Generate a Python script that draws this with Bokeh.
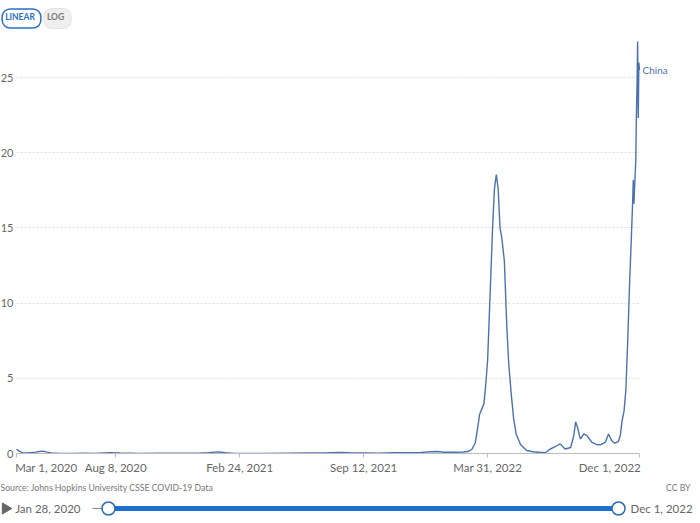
import math
import pandas as pd
from bokeh.plotting import figure
from bokeh.models import Range1d, FixedTicker, Label, ColumnDataSource, LinearAxis
from bokeh.embed import file_html
from bokeh.resources import INLINE
from bokeh.core.properties import value

# ---------------- data ----------------
country = "China"
dates = [
    "2020-03-01", "2020-03-06", "2020-03-12", "2020-03-18", "2020-03-25", "2020-04-01",
    "2020-04-07", "2020-04-13", "2020-04-19", "2020-04-26", "2020-05-10", "2020-06-01",
    "2020-06-18", "2020-07-05", "2020-07-30", "2020-08-15", "2020-09-15", "2020-10-20",
    "2020-11-20", "2020-12-20", "2021-01-05", "2021-01-15", "2021-01-22", "2021-02-01",
    "2021-02-15", "2021-04-01", "2021-05-15", "2021-06-15", "2021-07-10", "2021-08-05",
    "2021-08-20", "2021-09-15", "2021-10-05", "2021-11-01", "2021-11-20", "2021-12-10",
    "2021-12-28", "2022-01-08", "2022-01-20", "2022-02-05", "2022-02-20", "2022-03-01",
    "2022-03-06", "2022-03-11", "2022-03-15", "2022-03-18", "2022-03-22", "2022-03-25",
    "2022-03-28", "2022-03-31", "2022-04-04", "2022-04-08", "2022-04-11", "2022-04-14",
    "2022-04-17", "2022-04-20", "2022-04-23", "2022-04-27", "2022-05-01", "2022-05-04",
    "2022-05-08", "2022-05-12", "2022-05-16", "2022-05-23", "2022-06-02", "2022-06-12",
    "2022-06-22", "2022-07-02", "2022-07-10", "2022-07-18", "2022-07-26", "2022-08-03",
    "2022-08-12", "2022-08-17", "2022-08-20", "2022-08-23", "2022-08-26", "2022-08-28",
    "2022-09-02", "2022-09-07", "2022-09-15", "2022-09-22", "2022-09-29", "2022-10-07",
    "2022-10-12", "2022-10-17", "2022-10-22", "2022-10-28", "2022-10-31", "2022-11-03",
    "2022-11-06", "2022-11-09", "2022-11-12", "2022-11-15", "2022-11-18", "2022-11-20",
    "2022-11-21", "2022-11-22", "2022-11-23", "2022-11-24", "2022-11-25", "2022-11-26",
    "2022-11-27", "2022-11-28", "2022-11-29", "2022-11-30", "2022-12-01",
]
cases_per_million = [
    0.28, 0.14, 0.04, 0.03, 0.06, 0.09,
    0.13, 0.16, 0.09, 0.04, 0.01, 0.01,
    0.02, 0.01, 0.05, 0.03, 0.01, 0.02,
    0.02, 0.02, 0.05, 0.09, 0.10, 0.06,
    0.01, 0.01, 0.02, 0.03, 0.03, 0.07,
    0.05, 0.04, 0.02, 0.05, 0.05, 0.06,
    0.12, 0.13, 0.08, 0.08, 0.10, 0.15,
    0.30, 0.70, 1.70, 2.60, 3.00, 3.30,
    4.60, 6.20, 10.6, 15.0, 17.6, 18.55,
    17.6, 15.0, 14.3, 12.8, 8.4, 6.0,
    4.0, 2.3, 1.3, 0.6, 0.2, 0.12,
    0.08, 0.05, 0.30, 0.45, 0.64, 0.30,
    0.40, 1.20, 2.10, 1.75, 1.20, 0.97,
    1.30, 1.20, 0.75, 0.60, 0.58, 0.75,
    1.30, 0.86, 0.68, 0.80, 1.20, 2.20,
    2.80, 4.20, 7.50, 11.3, 14.5, 16.8,
    18.2, 16.6, 17.6, 18.5, 19.5, 22.5,
    24.5, 27.4, 22.3, 26.0, 25.5,
]
tick_dates = ["2020-03-01", "2020-08-08", "2021-02-24", "2021-09-12", "2022-03-31", "2022-12-01"]
tick_labels = ["Mar 1, 2020", "Aug 8, 2020", "Feb 24, 2021", "Sep 12, 2021", "Mar 31, 2022", "Dec 1, 2022"]
y_ticks = [0, 5, 10, 15, 20, 25]
slider_start, slider_end = "2020-01-28", "2022-12-01"
slider_labels = ["Jan 28, 2020", "Dec 1, 2022"]
source_text = "Source: Johns Hopkins University CSSE COVID-19 Data"
license_text = "CC BY"
scale_buttons = ["LINEAR", "LOG"]

# ---------------- geometry ----------------
origin = pd.Timestamp(dates[0])


def day(d):
    return float((pd.Timestamp(d) - origin).days)


xs = [day(d) for d in dates]
x_ticks = [day(d) for d in tick_dates]
x_end = x_ticks[-1]

FONT = "Lato"
LINE_COLOR = "#4a72b0"
TEXT_GREY = "#666666"

W, H = 700, 523
FX0, FX1 = 16, 639            # canvas x of first / last date
FY0 = 453                     # canvas y of value 0
ppd = (FX1 - FX0) / x_end
ppu = 376.0 / 25.0


def px_x(cx):
    return (cx - FX0) / ppd


def px_y(cy):
    return (FY0 - cy) / ppu


p = figure(width=W, height=H,
           x_range=Range1d(px_x(0), px_x(W)),
           y_range=Range1d(px_y(H), px_y(0)),
           output_backend="svg", toolbar_location=None,
           min_border_left=0, min_border_right=0, min_border_top=0, min_border_bottom=0)
p.outline_line_color = None
p.background_fill_color = "white"
p.border_fill_color = "white"

src = ColumnDataSource(dict(x=xs, y=cases_per_million))
p.line("x", "y", source=src, line_color=LINE_COLOR, line_width=1.4)

# y axis (drawn at the first date)
p.yaxis.fixed_location = 0
p.yaxis.ticker = FixedTicker(ticks=y_ticks)
p.yaxis.axis_line_color = None
p.yaxis.major_tick_line_color = None
p.yaxis.major_tick_in = 0
p.yaxis.major_tick_out = 0
p.yaxis.minor_tick_line_color = None
p.yaxis.major_label_text_color = TEXT_GREY
p.yaxis.major_label_text_font = FONT
p.yaxis.major_label_text_font_size = "11px"
p.yaxis.major_label_standoff = 3

# x axis: line, ticks and inner labels
p.xaxis.fixed_location = 0
p.xaxis.bounds = (0, x_end)
p.xaxis.ticker = FixedTicker(ticks=x_ticks)
overrides = {int(t): lab for t, lab in zip(x_ticks, tick_labels)}
overrides[int(x_ticks[0])] = ""
overrides[int(x_ticks[-1])] = ""
p.xaxis.major_label_overrides = overrides
p.xaxis.axis_line_color = "#bbbbbb"
p.xaxis.major_tick_line_color = "#bbbbbb"
p.xaxis.major_tick_in = 0
p.xaxis.major_tick_out = 4
p.xaxis.minor_tick_line_color = None
p.xaxis.major_label_text_color = TEXT_GREY
p.xaxis.major_label_text_font = FONT
p.xaxis.major_label_text_font_size = "11.5px"
p.xaxis.major_label_standoff = 3

# x axis: edge labels aligned with the ends of the time axis
half_w = 30.0
edge_ticks = [int(round(x_ticks[0] + half_w / ppd)), int(round(x_ticks[-1] - half_w / ppd))]
edge_axis = LinearAxis(fixed_location=0, ticker=FixedTicker(ticks=edge_ticks),
                       major_label_overrides={edge_ticks[0]: tick_labels[0],
                                              edge_ticks[1]: tick_labels[-1]},
                       axis_line_color=None, major_tick_line_color=None,
                       minor_tick_line_color=None, major_tick_in=0, major_tick_out=4,
                       major_label_text_color=TEXT_GREY, major_label_text_font=FONT,
                       major_label_text_font_size="11.5px", major_label_standoff=3)
p.add_layout(edge_axis, "below")

# grid
p.xgrid.visible = False
p.ygrid.ticker = FixedTicker(ticks=y_ticks[1:])
p.ygrid.grid_line_color = "#dddddd"
p.ygrid.grid_line_dash = "2 2"
p.ygrid.cross_bounds = (0, x_end)

# series label
p.text(x=[xs[-1]], y=[cases_per_million[-1]], text=[country], x_offset=3,
       text_baseline="middle", text_font=value(FONT), text_font_size="10px",
       text_color=LINE_COLOR)

# LINEAR / LOG toggle
btn_y = px_y(18)
p.add_layout(Label(x=px_x(57), y=btn_y, text=scale_buttons[1], text_align="center",
                   text_baseline="middle", text_font=FONT, text_font_size="8.5px",
                   text_font_style="bold", text_color="#7a7a7a",
                   background_fill_color="#efefef", border_line_color="#e2e2e2",
                   padding=[3, 7, 3, 7], border_radius=8))
p.add_layout(Label(x=px_x(21), y=btn_y, text=scale_buttons[0], text_align="center",
                   text_baseline="middle", text_font=FONT, text_font_size="8.5px",
                   text_font_style="bold", text_color="#2a6fc4",
                   background_fill_color="white", border_line_color="#2a6fc4",
                   border_line_width=1.5, padding=[3, 6, 3, 6], border_radius=8))

# ---------------- footer / timeline ----------------
foot_y = px_y(487)
p.text(x=[px_x(0)], y=[foot_y], text=[source_text], text_font=value(FONT),
       text_font_size="8.7px", text_color="#777777", text_baseline="middle")
p.text(x=[px_x(690)], y=[foot_y], text=[license_text], text_font=value(FONT),
       text_font_size="8.7px", text_color="#777777", text_baseline="middle",
       text_align="right")

s0, s1 = day(slider_start), day(slider_end)
TRACK_L, TRACK_R = 108, 618


def slider_x(d):
    return px_x(TRACK_L + (day(d) - s0) / (s1 - s0) * (TRACK_R - TRACK_L))


sy = px_y(508)
h0, h1 = slider_x(slider_start), slider_x(slider_end)
p.scatter(x=[px_x(5)], y=[sy], marker="triangle", size=11, angle=-math.pi / 2,
          fill_color="#666666", line_color="#666666")
p.segment(x0=[px_x(TRACK_L - 16)], y0=[sy], x1=[h0], y1=[sy], line_color="#888888",
          line_width=1.2)
p.segment(x0=[h0], y0=[sy], x1=[h1], y1=[sy], line_color="#1f6fd0", line_width=5)
p.scatter(x=[h0, h1], y=[sy, sy], size=13, fill_color="white", line_color="#2a6ab8",
          line_width=1.5)
p.text(x=[h0], y=[sy], text=[slider_labels[0]], text_font=value(FONT), text_font_size="11.5px",
       text_color=TEXT_GREY, text_baseline="middle", text_align="right", x_offset=-28)
p.text(x=[h1], y=[sy], text=[slider_labels[1]], text_font=value(FONT), text_font_size="11.5px",
       text_color=TEXT_GREY, text_baseline="middle", text_align="left", x_offset=12)

open("out.html", "w").write(file_html(p, INLINE))
